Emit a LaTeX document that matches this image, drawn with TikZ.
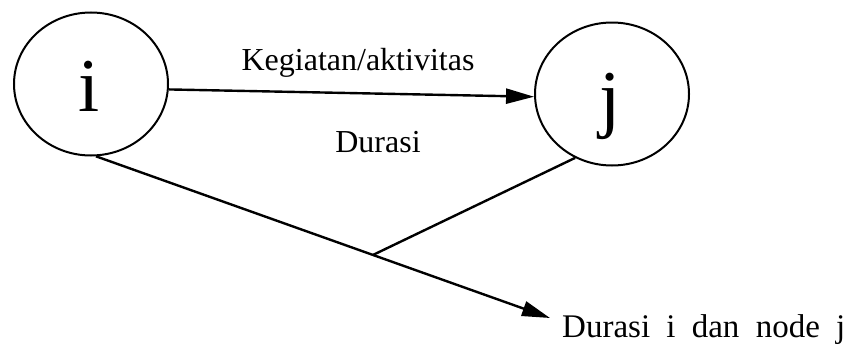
\documentclass[tikz,border=0pt]{standalone}
\usepackage{fontspec}
\setmainfont{Liberation Serif}
\usetikzlibrary{arrows.meta,shapes.geometric,calc}
\begin{document}
\begin{tikzpicture}[x=1pt,y=-1pt,
  evnode/.style={draw,ellipse,line width=2pt,inner sep=0pt,minimum width=154pt,minimum height=143pt},
  letter/.style={font=\fontsize{76}{80}\selectfont,inner sep=0pt},
  lbl/.style={font=\fontsize{32}{36}\selectfont,inner sep=0pt,anchor=base},
  conn/.style={line width=2.4pt},
  arr/.style={conn,-{Triangle[length=28pt,width=15pt]}}]
\useasboundingbox (0,0) rectangle (853,348);
\node[evnode] (ci) at (91,84) {};
\node[evnode] (cj) at (612,94) {};
\node[letter] (li) at (89,86) {i};
\node[letter] (lj) at (610,106) {j};
\node[lbl] (keg) at (358,70) {Kegiatan/aktivitas};
\node[lbl] (dur) at (378,152) {Durasi};
\node[lbl,anchor=base west] (dij) at (562,337) {\fontsize{33}{36}\selectfont Durasi\hspace{8pt} i\hspace{8pt} dan\hspace{8pt} node\hspace{8pt} j};
\coordinate (tip) at (550,318);
\coordinate (jn) at ($(ci.-86)!0.61!(tip)$);
\draw[arr] (ci.-4) -- (cj.182);
\draw[arr] (ci.-86) -- (tip);
\draw[conn] (cj.240) -- (jn);
\end{tikzpicture}
\end{document}
